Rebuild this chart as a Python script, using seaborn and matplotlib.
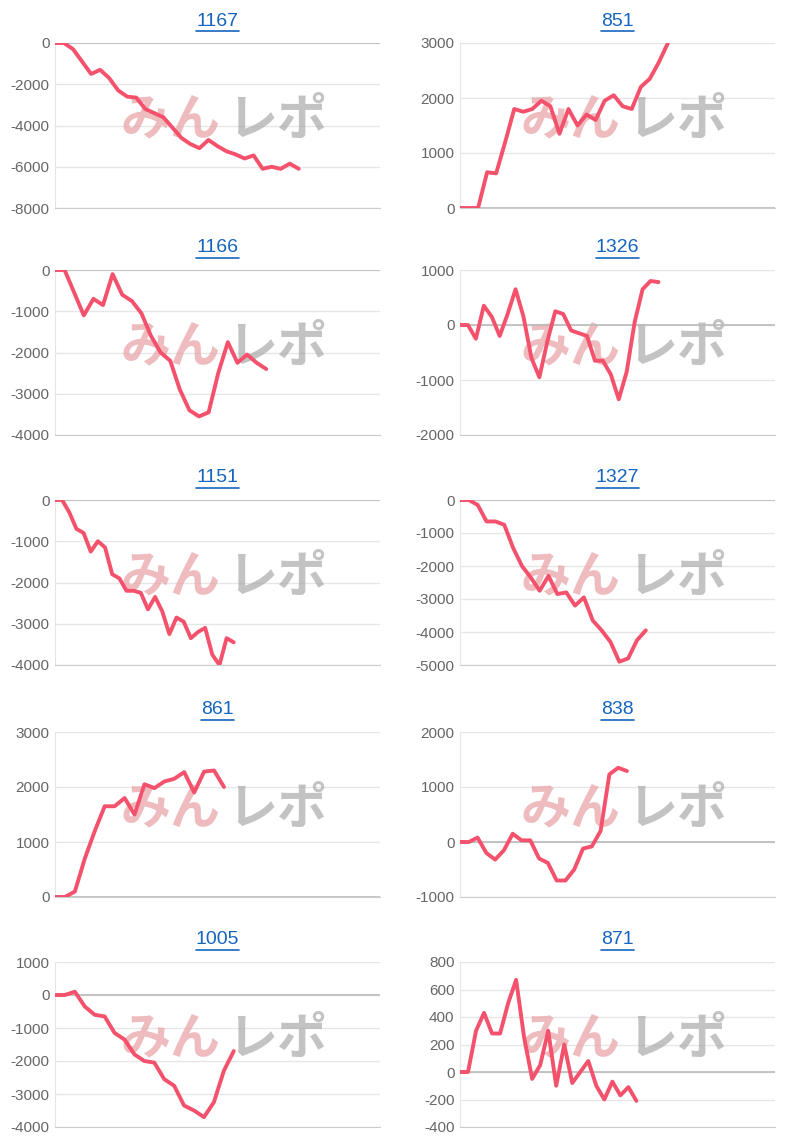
import numpy as np
import pandas as pd
import seaborn as sns
import matplotlib.pyplot as plt
from matplotlib.lines import Line2D

# machine numbers (panel titles), left column then right column per row
titles = ["1167", "851", "1166", "1326", "1151", "1327", "861", "838", "1005", "871"]

s1167 = [0, 0, -300, -900, -1500, -1300, -1700, -2300, -2600, -2650, -3200, -3400, -3600, -4100,
         -4600, -4900, -5100, -4700, -5000, -5250, -5400, -5600, -5450, -6100, -6000, -6100, -5850, -6100]
s851 = [0, 0, 0, 650, 630, 1200, 1800, 1750, 1800, 1950, 1850, 1350, 1800, 1500, 1700, 1600,
        1950, 2050, 1850, 1800, 2200, 2350, 2650, 3000]
s1166 = [0, 0, -550, -1100, -700, -850, -100, -600, -750, -1050, -1600, -2000, -2200, -2900,
         -3400, -3550, -3450, -2500, -1750, -2250, -2050, -2250, -2400]
s1326 = [0, 0, -250, 350, 150, -200, 200, 650, 150, -600, -950, -300, 250, 200, -100, -150,
         -200, -650, -650, -900, -1350, -850, 50, 650, 800, 780]
s1151 = [0, 0, -300, -700, -800, -1250, -1000, -1150, -1800, -1900, -2200, -2200, -2250, -2650,
         -2350, -2700, -3250, -2850, -2950, -3350, -3200, -3100, -3750, -4000, -3350, -3450]
s1327 = [0, 0, -150, -650, -650, -750, -1450, -2000, -2350, -2750, -2300, -2850, -2800, -3200,
         -2950, -3650, -3950, -4300, -4900, -4800, -4250, -3950]
s861 = [0, 0, 100, 700, 1200, 1650, 1650, 1800, 1500, 2050, 1980, 2100, 2150, 2270, 1900,
        2280, 2300, 2000]
s838 = [0, 0, 80, -200, -320, -150, 150, 30, 30, -300, -380, -700, -700, -500, -120, -80,
        200, 1230, 1350, 1290]
s1005 = [0, 0, 100, -350, -600, -650, -1150, -1350, -1800, -2000, -2050, -2550, -2750, -3350,
         -3500, -3700, -3250, -2300, -1700]
s871 = [0, 0, 300, 430, 280, 280, 500, 670, 250, -50, 50, 300, -100, 200, -80, 0, 80, -100,
        -200, -70, -170, -110, -210]

series = [s1167, s851, s1166, s1326, s1151, s1327, s861, s838, s1005, s871]
ylims = [(-8000, 0), (0, 3000), (-4000, 0), (-2000, 1000), (-4000, 0),
         (-5000, 0), (0, 3000), (-1000, 2000), (-4000, 1000), (-400, 800)]
ysteps = [2000, 1000, 1000, 1000, 1000, 1000, 1000, 1000, 1000, 200]
# fraction of the axis width the line reaches
end_frac = [0.75, 0.66, 0.65, 0.63, 0.55, 0.59, 0.52, 0.53, 0.55, 0.56]

sns.set_style("white")
plt.rcParams['font.family'] = ['Arial', 'Liberation Sans', 'DejaVu Sans']

W, H = 805, 1140
fig = plt.figure(figsize=(W / 100, H / 100), dpi=100)

row_tops = [43, 270, 500, 732, 962]
ax_h = 165
col_x = [(55, 325), (460, 315)]

for i, (name, vals) in enumerate(zip(titles, series)):
    r, c = divmod(i, 2)
    x0, w = col_x[c]
    top = row_tops[r]
    ax = fig.add_axes([x0 / W, 1 - (top + ax_h) / H, w / W, ax_h / H])
    df = pd.DataFrame({"x": np.arange(len(vals)), "y": vals})
    sns.lineplot(data=df, x="x", y="y", ax=ax, color="#f4516c", linewidth=2.8, zorder=3)
    ax.set_xlim(0, (len(vals) - 1) / end_frac[i])
    lo, hi = ylims[i]
    ax.set_ylim(lo, hi)
    ax.set_yticks(np.arange(lo, hi + 1, ysteps[i]))
    ax.set_xticks([])
    ax.set_xlabel("")
    ax.set_ylabel("")
    ax.grid(axis="y", color="#e6e6e6", linewidth=1)
    ax.axhline(0, color="#bbbbbb", linewidth=1.2, zorder=2)
    for sp in ["top", "right"]:
        ax.spines[sp].set_visible(False)
    ax.spines["left"].set_color("#e6e6e6")
    ax.spines["bottom"].set_color("#cccccc")
    ax.tick_params(axis="y", length=0, labelsize=11, labelcolor="#666666", pad=4)
    ax.yaxis.set_major_formatter(plt.FuncFormatter(lambda v, p: f"{int(v)}"))

    # watermark
    ax.text(0.51, 0.53, "みん", transform=ax.transAxes, ha="right", va="center",
            fontsize=36, fontweight="bold", style="italic", color="#e8a0a4", alpha=0.7,
            family=["Noto Sans CJK JP"], zorder=1)
    ax.text(0.53, 0.53, "レポ", transform=ax.transAxes, ha="left", va="center",
            fontsize=36, fontweight="bold", style="italic", color="#aaaaaa", alpha=0.7,
            family=["Noto Sans CJK JP"], zorder=1)

    # underlined link-style title
    cx = (x0 + w / 2) / W
    ty = 1 - (top - 22) / H
    fig.text(cx, ty, name, ha="center", va="center", fontsize=14, color="#1565c0")
    tw = 10.8 * len(name) / W
    fig.add_artist(Line2D([cx - tw / 2, cx + tw / 2], [ty - 10 / H, ty - 10 / H],
                          color="#1565c0", linewidth=1.2))

plt.savefig("out.png", dpi=100)
